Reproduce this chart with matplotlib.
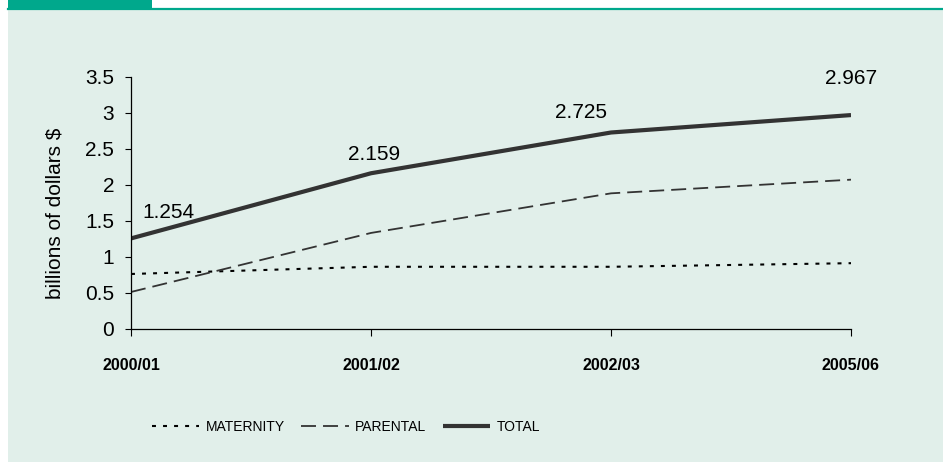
import matplotlib
matplotlib.use("Agg")
import matplotlib.pyplot as plt
from matplotlib.patches import Rectangle
from matplotlib.lines import Line2D

# ---- data ----
categories = ["2000/01", "2001/02", "2002/03", "2005/06"]
maternity = [0.76, 0.86, 0.86, 0.91]
parental = [0.51, 1.33, 1.88, 2.07]
total = [1.254, 2.159, 2.725, 2.967]
total_labels = ["1.254", "2.159", "2.725", "2.967"]
y_ticks = [0, 0.5, 1, 1.5, 2, 2.5, 3, 3.5]
y_ticklabels = ["0", "0.5", "1", "1.5", "2", "2.5", "3", "3.5"]
series_names = ["MATERNITY", "PARENTAL", "TOTAL"]

# ---- style ----
W, H, DPI = 943, 462, 100
BG = "#E1EFEA"
GREEN = "#00A88C"
DARK = "#333333"
regular = ["Liberation Sans", "DejaVu Sans"]
narrow = ["Liberation Sans Narrow", "Liberation Sans", "DejaVu Sans"]
label_offsets_px = [(37, 26), (3, 18.5), (-30, 20), (0, 37)]

fig = plt.figure(figsize=(W / DPI, H / DPI), dpi=DPI, facecolor="white")

# background panel and header
fig.patches.append(Rectangle((8 / W, 0), 1 - 8 / W, 1 - 9.5 / H,
                             transform=fig.transFigure, facecolor=BG,
                             edgecolor="none", zorder=-10))
fig.patches.append(Rectangle((8 / W, 1 - 8.5 / H), 144 / W, 8.5 / H,
                             transform=fig.transFigure, facecolor=GREEN,
                             edgecolor="none", zorder=-9))
fig.lines.append(Line2D([8 / W, 1], [1 - 8.8 / H, 1 - 8.8 / H],
                        transform=fig.transFigure, color=GREEN, lw=1.6, zorder=-9))

left, right = 131 / W, 851 / W
bottom, top = 1 - 328.7 / H, 1 - 76.7 / H
ax = fig.add_axes([left, bottom, right - left, top - bottom])
ax.set_facecolor("none")
ax.set_zorder(5)

x = list(range(len(categories)))
l1, = ax.plot(x, maternity, color="black", lw=1.5,
              linestyle=(0, (1.9, 3.4)), solid_capstyle="butt")
l2, = ax.plot(x, parental, color=DARK, lw=1.3,
              linestyle=(0, (8.3, 3.9)))
l3, = ax.plot(x, total, color=DARK, lw=3.0, solid_capstyle="butt")

for xi, yi, lab, (dx, dy) in zip(x, total, total_labels, label_offsets_px):
    ax.annotate(lab, (xi, yi), xytext=(dx * 0.72, dy * 0.72),
                textcoords="offset points", ha="center", va="center",
                fontsize=15, family=regular, color="black")

ax.set_xlim(0, len(categories) - 1)
ax.set_ylim(0, 3.5)
ax.set_yticks(y_ticks)
ax.set_yticklabels(y_ticklabels, fontsize=15, family=regular)
ax.set_xticks(x)
ax.set_xticklabels(categories, fontsize=11.5, fontweight="bold", family=narrow)
ax.tick_params(axis="y", length=4, width=0.8, pad=8, direction="out")
ax.tick_params(axis="x", length=5, width=0.8, pad=16, direction="out")
for s in ["top", "right"]:
    ax.spines[s].set_visible(False)
for s in ["left", "bottom"]:
    ax.spines[s].set_linewidth(0.9)
    ax.spines[s].set_color("black")

ax.set_ylabel("billions of dollars $", fontsize=15, family=regular)
ax.yaxis.set_label_coords((64 - 131) / (851 - 131), (328.7 - 213) / 252)

leg = fig.legend([l1, l2, l3], series_names, loc="center",
                 bbox_to_anchor=(346 / W, 1 - 426.7 / H), ncol=3,
                 frameon=False, handlelength=3.4, handletextpad=0.45,
                 columnspacing=1.2, prop={"family": narrow, "size": 10})

fig.savefig("out.png", dpi=DPI, facecolor=fig.get_facecolor())
